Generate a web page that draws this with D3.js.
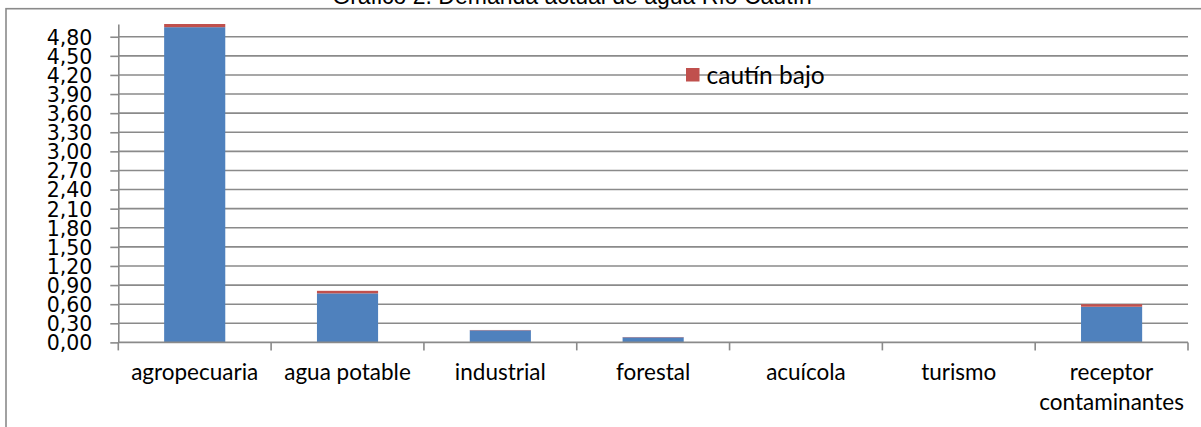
<!DOCTYPE html>
<html>
<head>
<meta charset="utf-8">
<script src="https://cdn.jsdelivr.net/npm/d3@7"></script>
<style>
  html, body { margin: 0; padding: 0; background: #fff; overflow: hidden; }
  svg { display: block; }
</style>
</head>
<body>
<svg id="chart" width="1201" height="427"></svg>
<script>
"use strict";

var chartTitle = 'Gráfico 2. Demanda actual de agua Río Cautín';
var categories = ['agropecuaria', 'agua potable', 'industrial', 'forestal', 'acuícola', 'turismo', 'receptor contaminantes'];
var cautinAlto = [4.95, 0.77, 0.19, 0.08, 0, 0, 0.56];
var cautinBajo = [0.05, 0.04, 0.005, 0.005, 0, 0, 0.04];
var yTicks = [0, 0.3, 0.6, 0.9, 1.2, 1.5, 1.8, 2.1, 2.4, 2.7, 3.0, 3.3, 3.6, 3.9, 4.2, 4.5, 4.8];
var yMax = 5.0;

var svg = d3.select('#chart');
var plot = {left: 118.3, right: 1188, top: 24, bottom: 342.4};

var grid = '#8a8a8a';

// outer chart frame (only top/left edges are on screen)
svg.append('rect')
    .attr('x', 6).attr('y', 8.7)
    .attr('width', 1400).attr('height', 600)
    .attr('fill', 'none')
    .attr('stroke', grid)
    .attr('stroke-width', 1.6);

svg.append('text')
    .attr('x', 572).attr('y', 4)
    .attr('text-anchor', 'middle')
    .attr('font-family', 'Liberation Sans, Arial, sans-serif')
    .attr('font-size', 23)
    .attr('fill', '#000')
    .text(chartTitle);

var x = d3.scaleBand()
    .domain(categories)
    .range([plot.left, plot.right])
    .paddingInner(0.6)
    .paddingOuter(0.3);

var xEdge = d3.scaleBand()
    .domain(categories)
    .range([plot.left, plot.right])
    .padding(0);

var y = d3.scaleLinear()
    .domain([0, yMax])
    .range([plot.bottom, plot.top]);

var fmt = function(d) { return d3.format('.2f')(d).replace('.', ','); };

// gridlines
svg.append('g')
    .selectAll('line')
    .data(yTicks.filter(function(d) { return d > 0; }))
    .join('line')
        .attr('x1', plot.left).attr('x2', plot.right)
        .attr('y1', function(d) { return y(d); })
        .attr('y2', function(d) { return y(d); })
        .attr('stroke', grid)
        .attr('stroke-width', 1.6);

// stacked bars
var stackData = categories.map(function(c, i) {
    return {cat: c, alto: cautinAlto[i], bajo: cautinBajo[i]};
});
var series = d3.stack().keys(['alto', 'bajo'])(stackData);
var colors = {alto: '#4f81bd', bajo: '#c0504d'};

svg.append('g')
    .selectAll('g')
    .data(series)
    .join('g')
        .attr('fill', function(s) { return colors[s.key]; })
    .selectAll('rect')
    .data(function(s) { return s.filter(function(d) { return d[1] - d[0] > 0; }); })
    .join('rect')
        .attr('x', function(d) { return x(d.data.cat); })
        .attr('width', x.bandwidth())
        .attr('y', function(d) { return y(d[1]); })
        .attr('height', function(d) { return y(d[0]) - y(d[1]); });

// y axis
var yAxis = svg.append('g')
    .attr('transform', 'translate(' + plot.left + ',0)')
    .call(d3.axisLeft(y).tickValues(yTicks).tickFormat(fmt).tickSizeInner(8).tickSizeOuter(0));
yAxis.select('.domain').attr('stroke', grid).attr('stroke-width', 1.6);
yAxis.selectAll('.tick line').attr('stroke', grid).attr('stroke-width', 1.6);
yAxis.selectAll('.tick text')
    .attr('x', -26)
    .attr('dy', '0.36em')
    .attr('font-family', 'DejaVu Sans, sans-serif')
    .attr('font-size', 20.5)
    .attr('fill', '#000');

// x axis
var xAxis = svg.append('g')
    .attr('transform', 'translate(0,' + plot.bottom + ')');
xAxis.append('line')
    .attr('x1', plot.left).attr('x2', plot.right)
    .attr('stroke', grid).attr('stroke-width', 1.6);
xAxis.selectAll('line.edge')
    .data(categories.concat(['end']))
    .join('line')
        .attr('class', 'edge')
        .attr('x1', function(d, i) { return plot.left + i * xEdge.step(); })
        .attr('x2', function(d, i) { return plot.left + i * xEdge.step(); })
        .attr('y1', 0).attr('y2', 8)
        .attr('stroke', grid).attr('stroke-width', 1.6);

var labels = xAxis.selectAll('text.cat')
    .data(categories)
    .join('text')
        .attr('class', 'cat')
        .attr('x', function(d) { return xEdge(d) + xEdge.bandwidth() / 2; })
        .attr('y', 38)
        .attr('text-anchor', 'middle')
        .attr('font-family', 'Lato, sans-serif')
        .attr('font-size', 22.5)
        .attr('fill', '#000')
        .text(function(d) { return d; });

// wrap long labels to the category width
labels.each(function(d) {
    var t = d3.select(this);
    if (this.getComputedTextLength() <= xEdge.bandwidth() - 4) return;
    var words = d.split(' ');
    var cx = t.attr('x');
    t.text(null);
    words.forEach(function(w, i) {
        t.append('tspan')
            .attr('x', cx)
            .attr('dy', i === 0 ? 0 : 29.5)
            .text(w);
    });
});

// legend
var legend = svg.append('g').attr('transform', 'translate(686,68)');
legend.append('rect')
    .attr('width', 13.5).attr('height', 13.5)
    .attr('fill', colors.bajo);
legend.append('text')
    .attr('x', 20.5).attr('y', 7)
    .attr('dy', '0.35em')
    .attr('font-family', 'Lato, sans-serif')
    .attr('font-size', 24.5)
    .attr('fill', '#000')
    .text('cautín bajo');
</script>
</body>
</html>
